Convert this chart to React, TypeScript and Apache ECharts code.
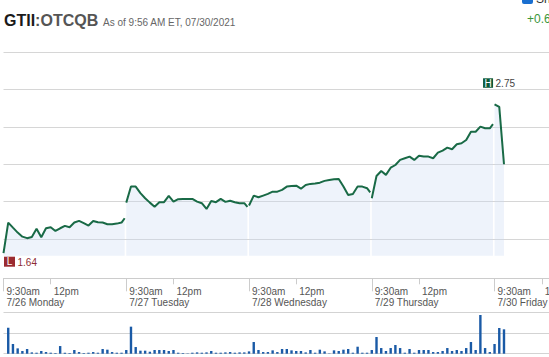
import React, { useEffect, useRef } from "react";
import * as echarts from "echarts";

// ---- data ----
const dayLabels = ["7/26 Monday", "7/27 Tuesday", "7/28 Wednesday", "7/29 Thursday", "7/30 Friday"];
const openTicks = [0, 390, 780, 1170, 1560]; // trading minutes at 9:30am
const noonTicks = [150, 540, 930, 1320, 1710]; // trading minutes at 12pm
const priceMinutes = [0, 15, 30, 45, 60, 75, 90, 105, 120, 135, 150, 165, 180, 195, 210, 225, 240, 255, 270, 285, 300, 315, 330, 345, 360, 375, 385];
const fridayPriceMinutes = [0, 15, 30];
const volMinutes = [15, 30, 45, 60, 75, 90, 105, 120, 135, 150, 165, 180, 195, 210, 225, 240, 255, 270, 285, 300, 315, 330, 345, 360, 375, 390];
const fridayVolMinutes = [15, 30];

const monPrice = [1.657, 1.861, 1.827, 1.794, 1.767, 1.757, 1.765, 1.819, 1.763, 1.823, 1.83, 1.805, 1.823, 1.839, 1.83, 1.861, 1.872, 1.857, 1.841, 1.872, 1.863, 1.861, 1.85, 1.85, 1.854, 1.861, 1.89];
const tuePrice = [1.994, 2.101, 2.101, 2.057, 2.023, 1.994, 1.967, 1.997, 1.997, 2.039, 2.001, 2.017, 2.019, 2.019, 2.019, 2.001, 1.99, 1.952, 2.005, 1.997, 2.019, 1.999, 2.007, 1.997, 1.99, 1.99, 1.965];
const wedPrice = [1.975, 2.041, 2.03, 2.041, 2.052, 2.067, 2.067, 2.079, 2.101, 2.105, 2.107, 2.087, 2.112, 2.119, 2.121, 2.127, 2.139, 2.145, 2.15, 2.152, 2.101, 2.045, 2.052, 2.101, 2.101, 2.09, 2.063];
const thuPrice = [2.023, 2.172, 2.205, 2.179, 2.227, 2.245, 2.279, 2.29, 2.301, 2.279, 2.307, 2.301, 2.301, 2.29, 2.327, 2.341, 2.361, 2.35, 2.383, 2.39, 2.412, 2.467, 2.467, 2.501, 2.49, 2.49, 2.517];
const friPrice = [2.65, 2.633, 2.25];

const monVol = [62.9, 23.4, 12.9, 6.5, 11.3, 3.2, 2.4, 6.5, 4.0, 2.4, 1.6, 18.5, 2.4, 1.6, 8.9, 4.0, 1.6, 2.4, 4.0, 2.4, 11.3, 9.7, 4.0, 2.4, 2.4, 8.9];
const tueVol = [65.3, 16.1, 7.3, 7.3, 4.8, 8.9, 8.9, 8.9, 6.5, 8.9, 2.4, 1.6, 0.8, 2.4, 3.2, 2.4, 3.2, 6.5, 2.4, 2.4, 3.2, 4.0, 2.4, 3.2, 3.2, 5.6];
const wedVol = [28.2, 8.9, 4.0, 4.0, 8.1, 4.0, 11.3, 11.3, 8.1, 6.5, 6.5, 3.2, 8.9, 2.4, 9.7, 5.6, 0.8, 8.1, 6.5, 9.7, 11.3, 2.4, 16.9, 2.4, 2.4, 8.9];
const thuVol = [40.3, 13.7, 6.5, 13.7, 21.0, 13.7, 2.4, 11.3, 2.4, 8.9, 8.9, 8.9, 4.0, 4.0, 6.5, 13.7, 6.5, 8.9, 6.5, 13.7, 28.2, 8.9, 93.5, 13.7, 4.0, 23.4];
const friVol = [62.1, 58.9];

const priceGridValues = [1.75, 2.0, 2.25, 2.5, 2.75, 3.0];
const lowPrice = 1.64;
const highPrice = 2.75;
const priceMin = 1.64;
const priceMax = 3.0;
const volMax = 100;

const FONT = 'Arial, "Liberation Sans", sans-serif';
const GREEN = "#196a46";

export default function App() {
  const ref = useRef<HTMLDivElement>(null);

  useEffect(() => {
    if (!ref.current) return;
    const chart = echarts.init(ref.current, undefined, { renderer: "svg" });

    const prices = [monPrice, tuePrice, wedPrice, thuPrice, friPrice];
    const vols = [monVol, tueVol, wedVol, thuVol, friVol];

    const priceSeries = prices.map((arr, d) => {
      const mins = d === 4 ? fridayPriceMinutes : priceMinutes;
      const s: any = {
        type: "line",
        xAxisIndex: 0,
        yAxisIndex: 0,
        data: arr.map((v, i) => [d * 390 + mins[i], v]),
        showSymbol: false,
        symbol: "none",
        lineStyle: { color: GREEN, width: 2 },
        areaStyle: { color: "rgba(200,216,242,0.45)", origin: "start" },
        z: 3,
        silent: true,
      };
      if (d === 0) {
        s.markLine = {
          silent: true,
          symbol: ["none", "none"],
          label: { show: false },
          z: 1,
          lineStyle: { color: "#d6d6d6", width: 1, type: "solid" },
          data: priceGridValues.map((v) => ({ yAxis: v })),
        };
      }
      return s;
    });

    const volData: number[][] = [];
    vols.forEach((arr, d) => {
      const mins = d === 4 ? fridayVolMinutes : volMinutes;
      arr.forEach((v, i) => volData.push([d * 390 + mins[i], v]));
    });

    const axisLabelStyle = {
      color: "#555",
      fontSize: 10,
      fontFamily: FONT,
      lineHeight: 11.5,
      align: "left" as const,
      padding: [0, 0, 0, 3],
      margin: 7,
      hideOverlap: false,
    };

    chart.setOption({
      animation: false,
      backgroundColor: "#fff",
      grid: [
        { left: 3.5, right: 0, top: 51.8, height: 203.9, containLabel: false, outerBoundsMode: "none" },
        { left: 3.5, right: 0, top: 312.3, height: 41.4, containLabel: false, outerBoundsMode: "none" },
      ],
      xAxis: [
        {
          type: "value",
          gridIndex: 0,
          min: 0,
          max: 1733,
          position: "bottom",
          offset: 22.6,
          axisLine: { show: true, lineStyle: { color: "#cccccc", width: 1 } },
          axisTick: { show: true, customValues: openTicks, length: 13, lineStyle: { color: "#cccccc" } },
          axisLabel: {
            ...axisLabelStyle,
            customValues: openTicks,
            formatter: (v: number) => "9:30am\n" + dayLabels[Math.round(v / 390)],
          },
          splitLine: { show: false },
        },
        {
          type: "value",
          gridIndex: 0,
          min: 0,
          max: 1733,
          position: "bottom",
          offset: 22.6,
          axisLine: { show: false },
          axisTick: { show: true, customValues: noonTicks, length: 6, lineStyle: { color: "#cccccc" } },
          axisLabel: {
            ...axisLabelStyle,
            customValues: noonTicks,
            formatter: () => "12pm",
          },
          splitLine: { show: false },
        },
        {
          type: "value",
          gridIndex: 1,
          min: 0,
          max: 1733,
          show: false,
        },
      ],
      yAxis: [
        { type: "value", gridIndex: 0, min: priceMin, max: priceMax, show: false, splitLine: { show: false } },
        {
          type: "value",
          gridIndex: 1,
          min: 0,
          max: volMax,
          interval: volMax / 2,
          axisLine: { show: false },
          axisTick: { show: false },
          axisLabel: { show: false },
          splitLine: { show: true, lineStyle: { color: "#d3d3d3", width: 1 } },
        },
      ],
      series: [
        ...priceSeries,
        {
          type: "bar",
          xAxisIndex: 2,
          yAxisIndex: 1,
          data: volData,
          barWidth: 2.4,
          itemStyle: { color: "#1a5aa6" },
          silent: true,
        },
      ],
    });

    const lp = chart.convertToPixel({ seriesIndex: 0 }, [0, lowPrice]) as number[];
    const hp = chart.convertToPixel({ seriesIndex: 4 }, [1560, highPrice]) as number[];

    chart.setOption({
      graphic: [
        {
          type: "text",
          x: 4,
          y: 20,
          style: {
            text: "{a|GTII}{b|:OTCQB}",
            rich: {
              a: { fontSize: 16, fontWeight: "bold", fontFamily: FONT, fill: "#1a1a1a", color: "#1a1a1a" },
              b: { fontSize: 16, fontWeight: "bold", fontFamily: FONT, fill: "#555", color: "#555" },
            },
            verticalAlign: "middle",
            textVerticalAlign: "middle",
          },
        },
        {
          type: "text",
          x: 103,
          y: 22.5,
          style: {
            text: "As of 9:56 AM ET, 07/30/2021",
            fontSize: 10,
            fontFamily: FONT,
            fill: "#666",
            verticalAlign: "middle",
            textVerticalAlign: "middle",
          },
        },
        {
          type: "text",
          x: 527,
          y: 19,
          style: {
            text: "+0.61",
            fontSize: 12,
            fontFamily: FONT,
            fill: "#3a963a",
            verticalAlign: "middle",
            textVerticalAlign: "middle",
          },
        },
        {
          type: "rect",
          shape: { x: 522, y: -9, width: 11, height: 13, r: 2 },
          style: { fill: "#1a6fd0" },
        },
        {
          type: "text",
          x: 536,
          y: -1,
          style: {
            text: "Show",
            fontSize: 12,
            fontFamily: FONT,
            fill: "#333",
            verticalAlign: "middle",
            textVerticalAlign: "middle",
          },
        },
        // Low marker
        {
          type: "rect",
          shape: { x: lp[0] + 0.5, y: lp[1] + 1, width: 11, height: 10 },
          style: { fill: "#9b2b30" },
        },
        {
          type: "text",
          x: lp[0] + 6,
          y: lp[1] + 6.2,
          style: {
            text: "L",
            fontSize: 10,
            fontFamily: FONT,
            fill: "#fff",
            align: "center",
            textAlign: "center",
            verticalAlign: "middle",
            textVerticalAlign: "middle",
          },
        },
        {
          type: "text",
          x: lp[0] + 14,
          y: lp[1] + 6.5,
          style: {
            text: lowPrice.toFixed(2),
            fontSize: 10,
            fontFamily: FONT,
            fill: "#8e2b33",
            verticalAlign: "middle",
            textVerticalAlign: "middle",
          },
        },
        // High marker
        {
          type: "rect",
          shape: { x: hp[0] - 11.5, y: hp[1] - 11, width: 10, height: 9.5 },
          style: { fill: "#0c5a3a" },
        },
        {
          type: "text",
          x: hp[0] - 6.5,
          y: hp[1] - 6,
          style: {
            text: "H",
            fontSize: 10,
            fontFamily: FONT,
            fill: "#fff",
            align: "center",
            textAlign: "center",
            verticalAlign: "middle",
            textVerticalAlign: "middle",
          },
        },
        {
          type: "text",
          x: hp[0] + 1,
          y: hp[1] - 6,
          style: {
            text: highPrice.toFixed(2),
            fontSize: 10,
            fontFamily: FONT,
            fill: "#444",
            verticalAlign: "middle",
            textVerticalAlign: "middle",
          },
        },
      ],
    });

    return () => chart.dispose();
  }, []);

  return (
    <div
      ref={ref}
      style={{ position: "fixed", left: 0, top: 0, width: 549, height: 357, background: "#fff" }}
    />
  );
}
